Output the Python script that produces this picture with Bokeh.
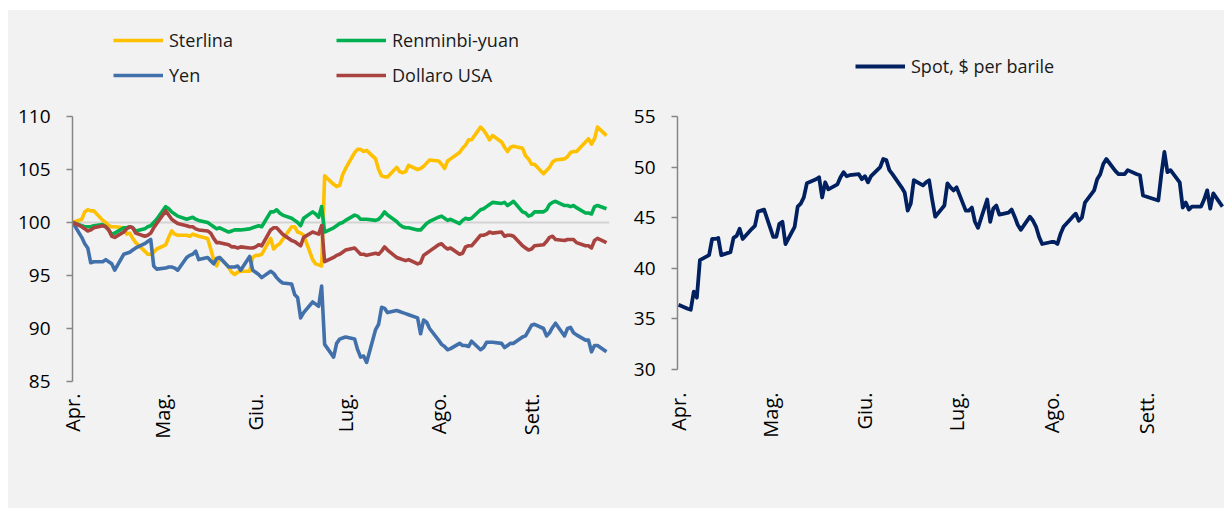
import math
import pandas as pd
from bokeh.plotting import figure
from bokeh.models import Range1d, FixedTicker, Legend, LegendItem, Span
from bokeh.layouts import row
from bokeh.embed import file_html
from bokeh.resources import INLINE

# ---------------- data ----------------
first_day = "2016-04-01"
last_day = "2016-09-26"
dates = pd.bdate_range(first_day, last_day)  # business days

month_starts = ["2016-04-01", "2016-05-01", "2016-06-01", "2016-07-01", "2016-08-01", "2016-09-01"]
month_labels = ["Apr.", "Mag.", "Giu.", "Lug.", "Ago.", "Sett."]

sterlina = [
    100.0, 100.3, 101.0, 101.2, 101.1, 101.1, 100.2, 100.0, 99.7, 99.6, 99.6, 99.5, 98.9, 99.0, 98.5, 98.1, 97.3, 97.0, 97.0, 97.2, 97.5,
    97.9, 98.6, 99.2, 98.9, 98.8, 98.8, 98.7, 98.9, 98.8, 98.7, 98.5, 97.5, 96.5, 95.9, 96.7, 95.8, 95.3, 95.1, 95.3, 95.4, 95.4, 96.7,
    96.9, 96.9, 97.0, 98.5, 97.5, 97.8, 98.0, 98.4, 99.6, 99.6, 99.1, 99.0, 98.8, 96.5, 96.1, 96.0, 95.9, 104.4, 103.6, 103.4, 103.5, 104.5,
    105.1, 106.6, 106.9, 106.9, 106.7, 106.8, 106.0, 105.0, 104.4, 104.3, 104.3, 105.2, 104.8, 104.7, 104.8, 105.4, 105.0, 105.1, 105.3, 105.6, 105.9,
    105.8, 105.5, 105.1, 105.8, 106.0, 106.6, 107.0, 107.3, 107.8, 107.8, 109.0, 108.7, 108.3, 107.8, 108.2, 107.6, 107.1, 106.7, 107.1, 107.2, 107.0, 106.3, 106.0,
    105.5, 105.5, 104.6, 104.9, 105.2, 105.7, 105.9, 106.0, 106.2, 106.6, 106.7, 106.7, 107.6, 107.9, 107.4, 107.9, 109.0, 108.2,
]
renminbi = [
    100.0, 99.7, 99.6, 99.6, 99.6, 99.7, 99.8, 99.6, 99.3, 98.9, 99.0, 99.5, 99.5, 99.6, 99.5, 99.2, 99.4, 99.6, 99.7, 100.0, 100.3,
    101.5, 101.3, 101.0, 100.8, 100.6, 100.3, 100.4, 100.5, 100.3, 100.2, 100.0, 99.8, 99.6, 99.4, 99.5, 99.1, 99.2, 99.3, 99.3, 99.3, 99.4, 99.5,
    99.6, 99.7, 99.6, 101.0, 101.0, 101.2, 100.9, 100.7, 100.4, 100.2, 100.0, 99.7, 100.4, 101.0, 100.8, 100.5, 101.5, 99.1, 99.5, 99.7, 99.9, 100.0,
    100.2, 100.7, 100.6, 100.3, 100.3, 100.3, 100.2, 100.3, 100.6, 101.0, 100.7, 100.1, 99.8, 99.6, 99.5, 99.5, 99.3, 99.3, 99.6, 99.9, 100.1,
    100.5, 100.6, 100.4, 100.2, 100.3, 99.9, 100.2, 100.4, 100.3, 100.4, 101.2, 101.3, 101.5, 101.7, 101.9, 101.8, 101.9, 101.6, 101.8, 102.0, 101.0, 100.9, 100.6,
    100.7, 101.0, 101.0, 101.2, 101.7, 101.9, 102.0, 101.6, 101.6, 101.5, 101.6, 101.4, 100.9, 100.9, 100.8, 101.5, 101.6, 101.3,
]
yen = [
    100.0, 98.6, 98.0, 97.6, 96.2, 96.3, 96.3, 96.5, 96.3, 96.1, 95.5, 97.0, 97.1, 97.2, 97.4, 97.6, 98.0, 98.2, 98.4, 95.9, 95.6,
    95.7, 95.8, 95.8, 95.7, 95.5, 96.7, 96.9, 97.0, 97.3, 96.5, 96.7, 96.4, 96.1, 96.6, 96.7, 95.8, 95.8, 95.8, 95.9, 95.5, 96.8, 95.5,
    95.3, 95.1, 94.8, 95.4, 95.2, 94.8, 94.5, 94.3, 94.2, 93.2, 92.9, 91.0, 91.5, 92.5, 92.3, 92.1, 94.0, 88.5, 87.3, 88.6, 89.0, 89.1,
    89.2, 89.0, 88.0, 87.3, 87.4, 86.8, 89.9, 90.4, 92.0, 91.9, 91.5, 91.7, 91.6, 91.5, 91.4, 91.3, 91.0, 89.5, 90.8, 90.6, 90.0,
    88.9, 88.5, 88.3, 88.0, 88.1, 88.6, 88.4, 88.4, 88.3, 88.8, 88.0, 88.2, 88.7, 88.7, 88.7, 88.6, 88.2, 88.4, 88.6, 88.6, 89.2, 89.3, 89.8,
    90.3, 90.4, 90.0, 89.3, 89.6, 90.1, 90.5, 89.3, 90.0, 90.1, 89.6, 89.4, 88.9, 88.9, 87.8, 88.4, 88.4, 87.8,
]
dollaro = [
    100.0, 99.6, 99.4, 99.2, 99.3, 99.5, 99.7, 99.6, 99.3, 98.7, 98.6, 99.1, 99.4, 99.6, 99.5, 99.0, 98.7, 98.8, 99.0, 99.5, 99.9,
    101.1, 100.7, 100.3, 100.1, 99.9, 99.7, 99.6, 99.6, 99.4, 99.3, 99.2, 99.0, 98.5, 98.1, 98.1, 97.9, 97.7, 97.7, 97.6, 97.7, 97.6, 97.6,
    97.7, 97.9, 97.8, 99.3, 99.5, 99.5, 99.2, 98.9, 98.3, 98.2, 98.0, 97.8, 98.6, 99.1, 99.0, 98.9, 99.7, 96.3, 96.7, 96.9, 97.0, 97.2,
    97.4, 97.6, 97.3, 97.0, 97.0, 96.9, 97.1, 97.0, 97.3, 97.7, 97.4, 96.7, 96.6, 96.5, 96.4, 96.5, 96.1, 96.2, 96.9, 97.1, 97.3,
    97.9, 98.0, 97.7, 97.5, 97.6, 97.0, 97.1, 97.7, 97.8, 97.8, 98.8, 98.8, 98.9, 99.1, 99.0, 99.1, 98.7, 98.8, 98.8, 98.7, 97.8, 97.6, 97.4,
    97.5, 97.8, 97.9, 98.2, 98.6, 98.7, 98.4, 98.3, 98.4, 98.4, 98.4, 98.1, 97.8, 97.8, 97.6, 98.3, 98.5, 98.1,
]
brent_spot = [
    36.4, 36.0, 35.9, 37.7, 37.1, 40.8, 41.3, 42.9, 42.9, 43.0, 41.3, 41.6, 43.0, 43.2, 43.9, 42.9, 43.9, 44.2, 45.6, 45.7, 45.8,
    43.1, 43.1, 44.4, 44.6, 42.4, 44.1, 46.1, 46.4, 47.0, 48.4, 48.8, 49.0, 47.0, 48.5, 47.8, 48.3, 49.0, 49.5, 49.1, 49.2, 49.3, 48.8,
    49.1, 48.5, 49.1, 50.0, 50.8, 50.7, 49.7, 49.3, 48.0, 47.5, 45.7, 46.4, 48.7, 48.2, 48.5, 48.7, 46.8, 45.1, 46.2, 48.4, 48.0, 47.7,
    48.0, 45.7, 45.7, 46.0, 44.6, 44.0, 46.8, 44.6, 45.9, 46.2, 45.3, 45.5, 45.8, 45.1, 44.3, 43.8, 45.1, 44.7, 44.1, 43.1, 42.4,
    42.6, 42.6, 42.4, 43.4, 44.1, 45.1, 45.4, 44.7, 45.0, 46.5, 47.7, 48.8, 49.3, 50.3, 50.8, 49.6, 49.3, 49.3, 49.3, 49.7, 49.3, 49.2, 47.2,
    47.1, 47.0, 46.7, 49.3, 51.5, 49.5, 49.7, 48.5, 46.0, 46.5, 45.8, 46.1, 46.1, 46.8, 47.7, 45.9, 47.4, 46.1,
]

fx_series = [
    ("Sterlina", sterlina, "#FFC000"),
    ("Renminbi-yuan", renminbi, "#00B050"),
    ("Yen", yen, "#4170AB"),
    ("Dollaro USA", dollaro, "#A9433F"),
]

FONT = "Open Sans"
BG = "#f2f2f2"
AXIS_GREY = "#868686"

# common frame (page pixels, top edge of figures at y=10)
FRAME_TOP = 18
FRAME_BOTTOM = 381

tick_ms = [pd.Timestamp(s).value / 1e6 for s in month_starts]
overrides = {t: lab for t, lab in zip(tick_ms, month_labels)}
t0 = pd.Timestamp(first_day)


def style(p, ylo, yhi, px_lo, px_hi, x_standoff):
    p.background_fill_color = BG
    p.border_fill_color = BG
    p.outline_line_color = None
    p.grid.visible = False
    ppu = (px_lo - px_hi) / (yhi - ylo)
    p.y_range = Range1d(ylo - (FRAME_BOTTOM - px_lo) / ppu, ylo + (px_lo - FRAME_TOP) / ppu)
    p.yaxis.bounds = (ylo, yhi)
    p.yaxis.ticker = FixedTicker(ticks=list(range(ylo, yhi + 1, 5)))
    p.yaxis.axis_line_color = AXIS_GREY
    p.yaxis.axis_line_width = 1.5
    p.yaxis.major_tick_line_color = AXIS_GREY
    p.yaxis.major_tick_line_width = 1.5
    p.yaxis.major_tick_out = 6
    p.yaxis.major_tick_in = 0
    p.yaxis.minor_tick_line_color = None
    p.yaxis.major_label_standoff = 16
    p.yaxis.major_label_text_font = FONT
    p.yaxis.major_label_text_font_size = "19px"
    p.yaxis.major_label_text_color = "#000000"
    p.xaxis.ticker = FixedTicker(ticks=tick_ms)
    p.xaxis.major_label_overrides = overrides
    p.xaxis.axis_line_color = None
    p.xaxis.major_tick_line_color = None
    p.xaxis.minor_tick_line_color = None
    p.xaxis.major_label_orientation = math.pi / 2
    p.xaxis.major_label_standoff = x_standoff
    p.xaxis.major_label_text_font = FONT
    p.xaxis.major_label_text_font_size = "20px"
    p.xaxis.major_label_text_color = "#000000"


def make_legend(items, vx, vy):
    lg = Legend(items=items, location=(vx, vy), orientation="vertical")
    lg.padding = 0
    lg.margin = 0
    lg.spacing = 11
    lg.border_line_color = None
    lg.background_fill_alpha = 0
    lg.glyph_width = 50
    lg.glyph_height = 24
    lg.label_height = 24
    lg.label_standoff = 6
    lg.label_text_font = FONT
    lg.label_text_font_size = "18px"
    lg.label_text_color = "#1a1a1a"
    return lg


# ---------------- left panel: exchange rates ----------------
p1 = figure(width=616, height=498, x_axis_type="datetime",
            output_backend="svg", toolbar_location=None,
            min_border_left=64, min_border_right=15, min_border_top=8, min_border_bottom=127,
            x_range=Range1d(t0 - pd.Timedelta(hours=2), t0 + pd.Timedelta(days=179)))
style(p1, 85, 110, 381, 116, 6)
p1.add_layout(Span(location=100, dimension="width", line_color="#d3d3d3", line_width=2, level="underlay"))

renderers = {}
for name, vals, col in fx_series:
    renderers[name] = p1.line(dates, vals, line_color=col, line_width=3.6, line_join="round")

leg_a = make_legend([LegendItem(label="Sterlina", renderers=[renderers["Sterlina"]]),
                     LegendItem(label="Yen", renderers=[renderers["Yen"]])], 41, 294)
leg_b = make_legend([LegendItem(label="Renminbi-yuan", renderers=[renderers["Renminbi-yuan"]]),
                     LegendItem(label="Dollaro USA", renderers=[renderers["Dollaro USA"]])], 264, 294)
p1.add_layout(leg_a)
p1.add_layout(leg_b)

# ---------------- right panel: oil ----------------
p2 = figure(width=600, height=498, x_axis_type="datetime",
            output_backend="svg", toolbar_location=None,
            min_border_left=53, min_border_right=0, min_border_top=8, min_border_bottom=127,
            x_range=Range1d(t0 - pd.Timedelta(hours=8), t0 + pd.Timedelta(days=178, hours=16)))
style(p2, 30, 55, 369, 116, 5)
r_oil = p2.line(dates, brent_spot, line_color="#002060", line_width=3.8, line_join="round")
p2.add_layout(make_legend([LegendItem(label="Spot, $ per barile", renderers=[r_oil])], 178, 303))

layout = row(p1, p2, margin=(10, 0, 0, 8), styles={"background-color": BG})
open("out.html", "w").write(file_html(layout, INLINE))
